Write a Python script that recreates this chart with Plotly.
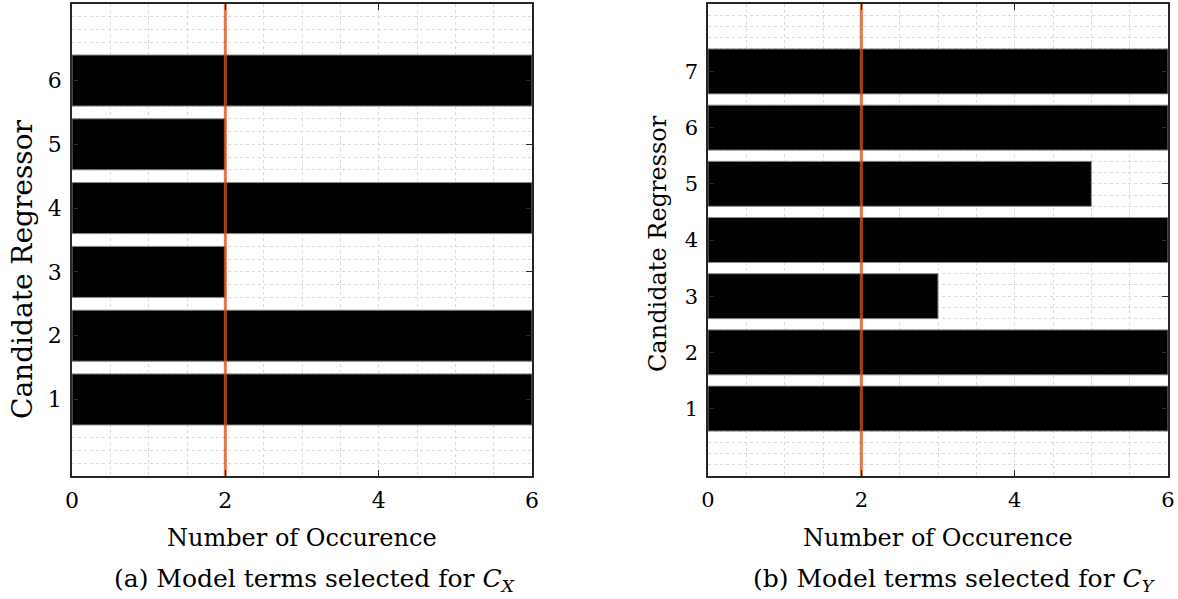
import plotly.graph_objects as go

# Selection counts per candidate regressor
regressors_x = [1, 2, 3, 4, 5, 6]
counts_x = [6, 6, 2, 6, 2, 6]
regressors_y = [1, 2, 3, 4, 5, 6, 7]
counts_y = [6, 6, 3, 6, 5, 6, 6]
threshold = 2
x_ticks = [0, 2, 4, 6]

FONT = "DejaVu Serif"
W, H = 1178, 599

fig = go.Figure()

panels = [
    dict(cats=regressors_x, vals=counts_x, xa="x", ya="y",
         xdom=[72 / W, 532 / W], ymax=7.2,
         tick_size=22, ytitle_size=28, ytitle_x=22, ytitle_y=270,
         cap_x=315,
         caption="(a) Model terms selected for <i>C</i><sub><i>X</i></sub>"),
    dict(cats=regressors_y, vals=counts_y, xa="x2", ya="y2",
         xdom=[708 / W, 1168 / W], ymax=8.2,
         tick_size=21, ytitle_size=24, ytitle_x=658, ytitle_y=244,
         cap_x=954,
         caption="(b) Model terms selected for <i>C</i><sub><i>Y</i></sub>"),
]

ydom = [(H - 476) / H, (H - 4) / H]
grid_style = dict(showgrid=True, gridcolor="#d9d9d9", gridwidth=0.8, griddash="dot")

for i, p in enumerate(panels):
    fig.add_trace(go.Bar(
        x=p["vals"], y=p["cats"], orientation="h", width=0.8,
        marker=dict(color="black", line=dict(color="#8a8a8a", width=1)),
        xaxis=p["xa"], yaxis=p["ya"], showlegend=False,
    ))
    fig.add_trace(go.Scatter(
        x=[threshold, threshold], y=[-0.2, p["ymax"]], mode="lines",
        line=dict(color="rgba(217,83,25,0.78)", width=3),
        xaxis=p["xa"], yaxis=p["ya"], showlegend=False, hoverinfo="skip",
    ))
    sfx = "" if i == 0 else str(i + 1)
    fig.layout["xaxis" + sfx] = dict(
        domain=p["xdom"], anchor=p["ya"], range=[0, 6], automargin=False,
        tickvals=x_ticks, ticks="inside", ticklen=6, tickcolor="#262626",
        showline=True, linecolor="#262626", linewidth=1.5, mirror="allticks",
        tickfont=dict(family=FONT, size=p["tick_size"], color="black"),
        ticklabelstandoff=4,
        zeroline=False, dtick=0.5, **grid_style,
        minor=dict(dtick=0.5, **grid_style),
    )
    fig.layout["yaxis" + sfx] = dict(
        domain=ydom, anchor=p["xa"], range=[-0.2, p["ymax"]], automargin=False,
        tickvals=p["cats"], ticks="inside", ticklen=6, tickcolor="#262626",
        showline=True, linecolor="#262626", linewidth=1.5, mirror="allticks",
        tickfont=dict(family=FONT, size=p["tick_size"], color="black"),
        ticklabelstandoff=4,
        zeroline=False, showgrid=False,
        minor=dict(tick0=0, dtick=0.2, **grid_style),
    )
    # x-axis title
    fig.add_annotation(
        text="Number of Occurence", xref="paper", yref="paper",
        x=sum(p["xdom"]) / 2, y=(H - 538) / H,
        xanchor="center", yanchor="middle", showarrow=False,
        font=dict(family=FONT, size=24, color="black"),
    )
    # y-axis title
    fig.add_annotation(
        text="Candidate Regressor", xref="paper", yref="paper",
        x=p["ytitle_x"] / W, y=(H - p["ytitle_y"]) / H, textangle=-90,
        xanchor="center", yanchor="middle", showarrow=False,
        font=dict(family=FONT, size=p["ytitle_size"], color="black"),
    )
    # sub-figure caption
    fig.add_annotation(
        text=p["caption"], xref="paper", yref="paper",
        x=p["cap_x"] / W, y=(H - 580) / H,
        xanchor="center", yanchor="middle", showarrow=False,
        font=dict(family=FONT, size=25, color="black"),
    )

fig.update_layout(
    width=W, height=H, margin=dict(l=0, r=0, t=0, b=0),
    paper_bgcolor="white", plot_bgcolor="white",
    bargap=0.2,
)

fig.write_html("out.html")
